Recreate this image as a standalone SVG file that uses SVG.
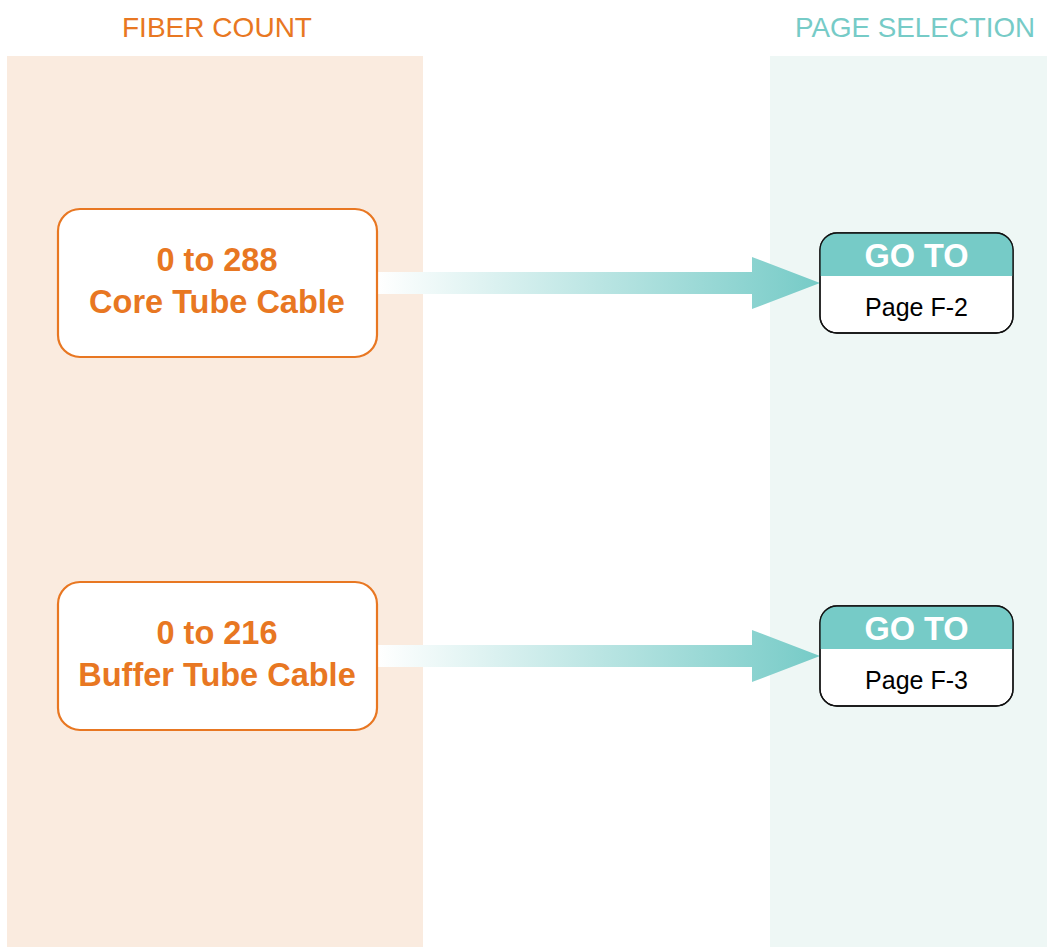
<svg xmlns="http://www.w3.org/2000/svg" width="1047" height="947" viewBox="0 0 1047 947">
<defs>
<style>
.hdr{font-family:"Liberation Sans",Arial,sans-serif;font-size:28px;}
.src rect{fill:#fff;stroke:#E87722;stroke-width:2.2;}
.src text{font-family:"Liberation Sans",Arial,sans-serif;font-weight:bold;font-size:32.5px;fill:#E87722;text-anchor:middle;}
.dst .frame{fill:#fff;stroke:#111;stroke-width:1.3;}
.dst .top{fill:#76CBC7;}
.dst .go{font-family:"Liberation Sans",Arial,sans-serif;font-weight:bold;font-size:32.5px;fill:#fff;text-anchor:middle;}
.dst .pg{font-family:"Liberation Sans",Arial,sans-serif;font-size:25px;fill:#000;text-anchor:middle;}
</style>
<linearGradient id="ag" gradientUnits="userSpaceOnUse" x1="378" y1="0" x2="820" y2="0">
<stop offset="0" stop-color="#ffffff"/>
<stop offset="1" stop-color="#76CBC7"/>
</linearGradient>
<clipPath id="c1"><rect x="820" y="233" width="193" height="100" rx="17"/></clipPath>
<clipPath id="c2"><rect x="820" y="606" width="193" height="100" rx="17"/></clipPath>
</defs>
<rect width="1047" height="947" fill="#fff"/>
<rect x="7" y="56" width="416" height="891" fill="#FAEBDF"/>
<rect x="770" y="56" width="277" height="891" fill="#EEF7F5"/>
<text class="hdr" x="217" y="37" text-anchor="middle" fill="#E87722" textLength="190" lengthAdjust="spacingAndGlyphs">FIBER COUNT</text>
<text class="hdr" x="915" y="37" text-anchor="middle" fill="#76CBC7" textLength="240" lengthAdjust="spacingAndGlyphs">PAGE SELECTION</text>
<g id="connectors">
<path d="M378 272 H752 V257 L820 283 L752 309 V294 H378 Z" fill="url(#ag)"/>
<path d="M378 645 H752 V630 L820 656 L752 682 V667 H378 Z" fill="url(#ag)"/>
</g>
<g id="n1" class="src">
<rect x="58" y="209" width="319" height="148" rx="22"/>
<text x="217" y="271">0 to 288</text>
<text x="217" y="313">Core Tube Cable</text>
</g>
<g id="n2" class="src">
<rect x="58" y="582" width="319" height="148" rx="22"/>
<text x="217" y="644">0 to 216</text>
<text x="217" y="686">Buffer Tube Cable</text>
</g>
<g id="d1" class="dst">
<rect class="frame" x="820" y="233" width="193" height="100" rx="17"/>
<rect class="top" x="820" y="233" width="193" height="43" clip-path="url(#c1)"/>
<rect x="820" y="233" width="193" height="100" rx="17" fill="none" stroke="#111" stroke-width="1.3"/>
<text class="go" x="916.5" y="267">GO TO</text>
<text class="pg" x="916.5" y="316">Page F-2</text>
</g>
<g id="d2" class="dst">
<rect class="frame" x="820" y="606" width="193" height="100" rx="17"/>
<rect class="top" x="820" y="606" width="193" height="43" clip-path="url(#c2)"/>
<rect x="820" y="606" width="193" height="100" rx="17" fill="none" stroke="#111" stroke-width="1.3"/>
<text class="go" x="916.5" y="640">GO TO</text>
<text class="pg" x="916.5" y="689">Page F-3</text>
</g>
</svg>
